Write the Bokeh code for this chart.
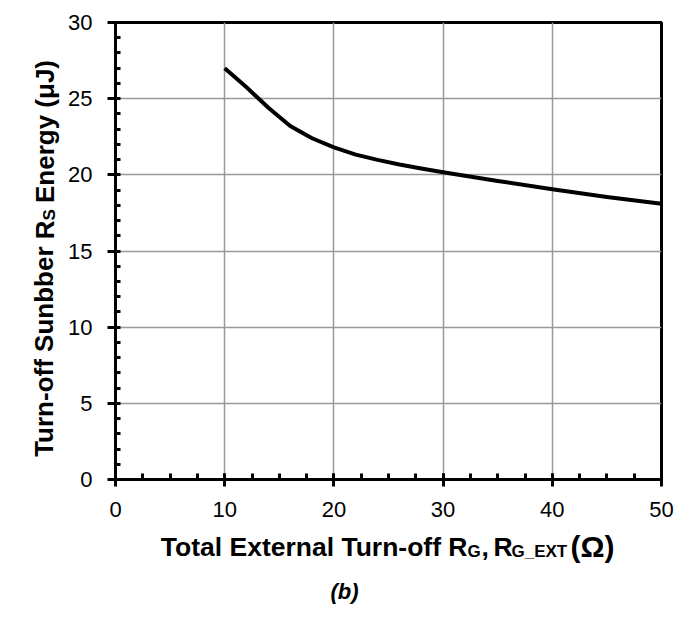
from bokeh.plotting import figure
from bokeh.models import Range1d, FixedTicker
from bokeh.layouts import row, column
from bokeh.core.properties import value
from bokeh.embed import file_html
from bokeh.resources import INLINE

# Data
rg_ohm = [10, 12, 14, 16, 18, 20, 22, 24, 26, 28, 30, 35, 40, 45, 50]
energy_uj = [27.0, 25.75, 24.4, 23.2, 22.4, 21.8, 21.33, 20.98, 20.68, 20.42, 20.17,
             19.6, 19.05, 18.55, 18.1]

x_ticks = [0, 10, 20, 30, 40, 50]
x_minor = [i * 2.5 for i in range(21)]
y_ticks = [0, 5, 10, 15, 20, 25, 30]
y_minor = list(range(31))

x_title = ["Total External Turn-off R", "G", ",", "R", "G_EXT", "(Ω)"]
y_title = ["Turn-off Sunbber R", "S", "Energy (μJ)"]
caption = "(b)"

FONT = "Liberation Sans"
W, H = 687, 626
LW = 62            # width of the left strip holding the y title
MH = 524           # height of the main figure
FL, FR, FT, FB = 115, 661, 22, 479  # frame edges on the page

# ---------------- main chart ----------------
p = figure(width=W - LW, height=MH, output_backend="svg", toolbar_location=None,
           x_range=Range1d(0, 50), y_range=Range1d(0, 30),
           min_border_left=FL - LW, min_border_right=W - FR,
           min_border_top=FT, min_border_bottom=MH - FB)
p.background_fill_color = "white"
p.border_fill_color = "white"
p.outline_line_color = "black"
p.outline_line_width = 3

p.xgrid.ticker = FixedTicker(ticks=x_ticks)
p.ygrid.ticker = FixedTicker(ticks=y_ticks)
for g in (p.xgrid, p.ygrid):
    g.grid_line_color = "#999999"
    g.grid_line_width = 1.5

for ax in (p.xaxis[0], p.yaxis[0]):
    ax.axis_line_color = "black"
    ax.axis_line_width = 3
    ax.major_tick_line_color = "black"
    ax.major_tick_line_width = 3
    ax.minor_tick_line_color = "black"
    ax.minor_tick_line_width = 3
    ax.major_label_text_font = FONT
    ax.major_label_text_font_size = "22px"
    ax.major_label_text_color = "black"
    ax.major_label_standoff = 15

p.xaxis[0].ticker = FixedTicker(ticks=x_ticks, minor_ticks=x_minor)
p.xaxis[0].major_tick_in = 6
p.xaxis[0].major_tick_out = 7
p.xaxis[0].minor_tick_in = 6
p.xaxis[0].minor_tick_out = 0

p.yaxis[0].ticker = FixedTicker(ticks=y_ticks, minor_ticks=y_minor)
p.yaxis[0].major_tick_in = 0
p.yaxis[0].major_tick_out = 8
p.yaxis[0].minor_tick_in = 5
p.yaxis[0].minor_tick_out = 0

p.line(rg_ohm, energy_uj, line_color="black", line_width=4, line_join="round")


# ---------------- text strips ----------------
def strip(width, height):
    f = figure(width=width, height=height, output_backend="svg", toolbar_location=None,
               x_range=Range1d(0, width), y_range=Range1d(0, height),
               min_border=0, x_axis_location=None, y_axis_location=None)
    f.xgrid.visible = False
    f.ygrid.visible = False
    f.outline_line_color = None
    f.background_fill_color = "white"
    f.border_fill_color = "white"
    return f


def put(f, x, y, s, size, align="left", angle=0.0, style="bold", baseline="alphabetic"):
    f.text(x=[x], y=[y], text=[s], text_font=value(FONT), text_font_style=style,
           text_font_size=f"{size}px", text_color="black", angle=angle,
           text_align=align, text_baseline=baseline)


SUB = 17
ROT = 1.5707963

# left strip: page x = data x, page y = MH - data y
left = strip(LW, MH)
put(left, 44, MH - 227, y_title[0], 26, align="right", angle=ROT)
put(left, 49, MH - 227, y_title[1], SUB, angle=ROT)
put(left, 44, MH - 207, y_title[2], 26, angle=ROT)

# bottom strip: page x = data x, page y = H - data y
bottom = strip(W, H - MH)
BASE = 546
put(bottom, 467, H - BASE, x_title[0], 26.5, align="right")
put(bottom, 467, H - (BASE + 5), x_title[1], SUB)
put(bottom, 481, H - BASE, x_title[2], 26.5)
put(bottom, 493, H - BASE, x_title[3], 26.5)
put(bottom, 511, H - (BASE + 5), x_title[4], SUB)
put(bottom, 570, H - BASE, x_title[5], 30)

put(bottom, 344, H - 591, caption, 22, align="center", style="bold italic",
    baseline="middle")

layout = column(row(left, p, spacing=0), bottom, spacing=0)
open("out.html", "w").write(file_html(layout, INLINE))
